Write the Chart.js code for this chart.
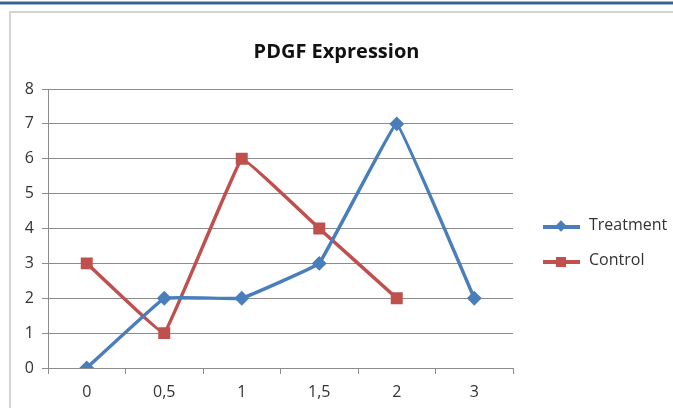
<!DOCTYPE html>
<html>
<head>
<meta charset="utf-8">
<script src="https://cdn.jsdelivr.net/npm/chart.js@4"></script>
<style>
  html,body{margin:0;padding:0;background:#fff;width:673px;height:408px;overflow:hidden;}
  #topbar{position:absolute;left:0;top:1px;width:673px;height:4px;background:#3b5f8e;border-top:1px solid #9db5d4;border-bottom:1px solid #9db5d4;box-sizing:border-box;}
  #frame{position:absolute;left:9px;top:11px;width:700px;height:430px;border:2px solid #d4d4d4;box-sizing:border-box;}
  #wrap{position:absolute;left:0;top:0;width:673px;height:408px;}
  #legend{position:absolute;left:543px;top:214px;font-family:"Open Sans",sans-serif;font-size:16px;color:#333;}
  .item{position:relative;height:35px;}
  .line{position:absolute;left:0;top:11px;width:37px;height:4px;}
  .mk{position:absolute;}
  .txt{position:absolute;left:46px;top:-1px;white-space:nowrap;}
</style>
</head>
<body>
<div id="topbar"></div>
<div id="frame"></div>
<div id="wrap"><canvas id="c" width="673" height="408"></canvas></div>
<div id="legend">
  <div class="item"><div class="line" style="background:#4a7ebb"></div><div class="mk" style="left:14px;top:8px;width:8px;height:8px;background:#4a7ebb;transform:rotate(45deg)"></div><div class="txt">Treatment</div></div>
  <div class="item"><div class="line" style="background:#c0504d"></div><div class="mk" style="left:13px;top:8px;width:10px;height:10px;background:#c0504d"></div><div class="txt">Control</div></div>
</div>
<script>
const categories = ["0", "0,5", "1", "1,5", "2", "3"];
const treatment = [0, 2, 2, 3, 7, 2];
const control = [3, 1, 6, 4, 2, null];
const yTicks = [0, 1, 2, 3, 4, 5, 6, 7, 8];

const font = {family: "'Open Sans', sans-serif", size: 16};
new Chart(document.getElementById('c'), {
  type: 'line',
  data: {
    labels: categories,
    datasets: [
      {label: 'Treatment', data: treatment, borderColor: '#4a7ebb', backgroundColor: '#4a7ebb',
       borderWidth: 3.5, pointStyle: 'rectRot', pointRadius: 5, pointHoverRadius: 5, tension: 0.05},
      {label: 'Control', data: control, borderColor: '#c0504d', backgroundColor: '#c0504d',
       borderWidth: 3.5, pointStyle: 'rect', pointRadius: 6, pointHoverRadius: 6, tension: 0.05}
    ]
  },
  options: {
    responsive: false,
    animation: false,
    layout: {padding: {left: 0, right: 0, top: 0, bottom: 0}},
    plugins: {
      legend: {display: false},
      tooltip: {enabled: false},
      title: {display: true, text: 'PDGF Expression', color: '#111',
        font: {family: "'Open Sans', sans-serif", size: 20, weight: 'bold'},
        padding: {top: 40, bottom: 25}}
    },
    scales: {
      x: {
        offset: true,
        grid: {offset: true, drawOnChartArea: false, drawTicks: true, tickLength: 6, color: '#8c8c8c'},
        border: {color: '#8c8c8c', width: 1},
        ticks: {color: '#333', font: font, padding: 9},
        afterFit: s => { s.height = 40; }
      },
      y: {
        min: 0, max: 8,
        afterBuildTicks: s => { s.ticks = yTicks.map(v => ({value: v})); },
        grid: {color: '#8c8c8c', tickLength: 6, lineWidth: 1},
        border: {color: '#8c8c8c', width: 1},
        ticks: {color: '#333', font: font, padding: 8},
        afterFit: s => { s.width = 48; }
      },
      yRight: {
        position: 'right', min: 0, max: 8,
        grid: {display: false},
        border: {display: false},
        ticks: {display: false},
        afterFit: s => { s.width = 160; }
      }
    }
  }
});
</script>
</body>
</html>
